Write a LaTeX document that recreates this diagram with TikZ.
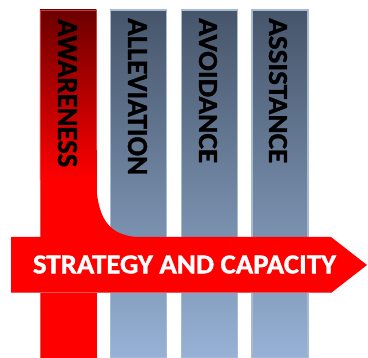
\documentclass[tikz,border=0pt]{standalone}
\usepackage{fontspec}
\setmainfont{Carlito}[BoldFeatures={FakeBold=1.2}]
\usepackage{graphicx}
\definecolor{bluetop}{RGB}{70,85,106}
\definecolor{bluebot}{RGB}{150,178,214}
\definecolor{blueedge}{RGB}{168,186,210}
\definecolor{redtop}{RGB}{108,0,0}
\definecolor{redmain}{RGB}{255,0,0}
\definecolor{rededge}{RGB}{236,88,88}
\begin{document}
\begin{tikzpicture}[x=1pt,y=-1pt]
\useasboundingbox[fill=white] (0,0) rectangle (368,358);
\tikzset{
  pillar/.style={rectangle, inner sep=0pt, minimum width=56pt, minimum height=348pt,
    top color=bluetop, bottom color=bluebot, draw=blueedge, line width=1.2pt},
  redpillar/.style={rectangle, inner sep=0pt, minimum width=57pt, minimum height=348pt,
    fill=redmain},
  edgeline/.style={draw=rededge, line width=1.2pt},
  lbl/.style={inner sep=0pt, rotate=-90, anchor=west, text=black},
  barlbl/.style={inner sep=0pt, text=white}
}
% blue pillars
\node[pillar] (c2) at (138.5,184) {};
\node[pillar] (c3) at (209.5,184) {};
\node[pillar] (c4) at (280,184) {};
% red pillar
\node[redpillar] (c1) at (68.5,184) {};
\shade[top color=redtop, bottom color=redmain] (c1.north west) rectangle (96.5,180);
\draw[edgeline, draw opacity=0.7] (40.6,180) -- (40.6,10.6) -- (96.4,10.6) -- (96.4,150);
\draw[edgeline] (40.6,180) -- (40.6,237);
% red arrow bar
\fill[redmain] (11,237) -- (331,237) -- (367,265) -- (331,293) -- (11,293) -- cycle;
\draw[edgeline] (11,292.4) -- (331,292.4);
\draw[edgeline] (40.6,293) -- (40.6,358);
% fillet
\fill[redmain] (96,182) .. controls (98,224) and (112,237.5) .. (146,237.5) -- (96,237.5) -- cycle;
% labels
\node[lbl] (l1) at (67.5,19) {\resizebox{148pt}{19pt}{\bfseries AWARENESS}};
\node[lbl] (l2) at (137.5,18) {\resizebox{157pt}{19pt}{\bfseries ALLEVIATION}};
\node[lbl] (l3) at (208,18) {\resizebox{145pt}{18pt}{\bfseries AVOIDANCE}};
\node[lbl] (l4) at (278,18) {\resizebox{145pt}{18pt}{\bfseries ASSISTANCE}};
\node[barlbl] (s) at (184.5,264.5) {\resizebox{303pt}{18pt}{\bfseries STRATEGY AND CAPACITY}};
\end{tikzpicture}
\end{document}
